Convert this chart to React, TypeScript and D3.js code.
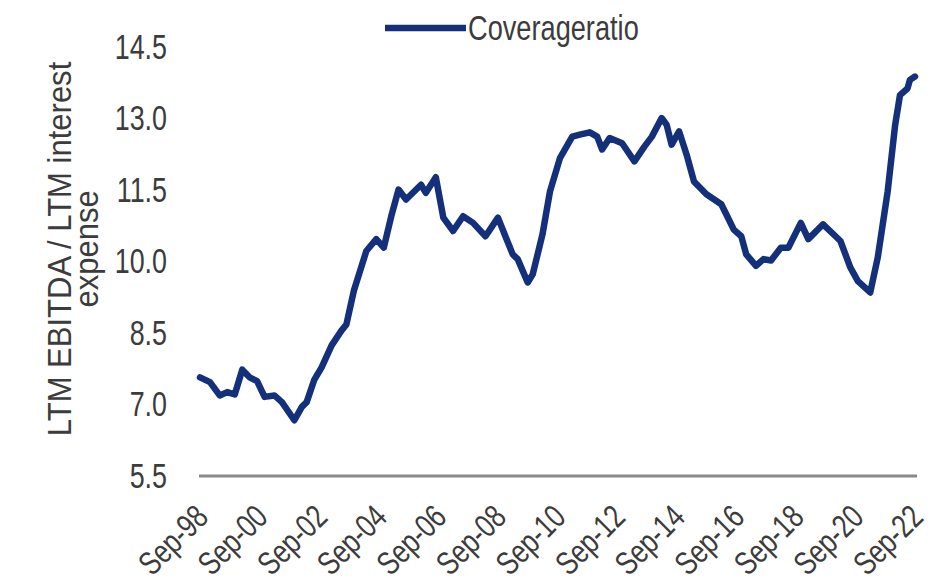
import React from "react";
import * as d3 from "d3";

const dates: string[] = [
  "1998-09","1999-01","1999-05","1999-08","1999-11","2000-02","2000-05","2000-08","2000-11","2001-03",
  "2001-06","2001-11","2002-02","2002-04","2002-07","2002-10","2003-02","2003-06","2003-08","2003-11",
  "2004-04","2004-08","2004-11","2005-02","2005-05","2005-08","2006-02","2006-04","2006-08","2006-11",
  "2007-03","2007-07","2007-11","2008-04","2008-09","2008-12","2009-03","2009-05","2009-09","2009-11",
  "2010-03","2010-06","2010-10","2011-03","2011-06","2011-10","2012-01","2012-03","2012-06","2012-11",
  "2013-04","2013-08","2013-11","2014-03","2014-05","2014-07","2014-10","2015-01","2015-04","2015-09",
  "2016-03","2016-05","2016-08","2016-11","2017-01","2017-05","2017-08","2017-11","2018-03","2018-06",
  "2018-11","2019-02","2019-08","2020-01","2020-03","2020-07","2020-10","2021-03","2021-06","2021-10",
  "2022-01","2022-03","2022-06","2022-07","2022-09"
];

const coverageRatio: number[] = [
  7.57,7.47,7.19,7.26,7.21,7.73,7.57,7.49,7.16,7.19,
  7.05,6.67,6.95,7.05,7.51,7.78,8.24,8.55,8.68,9.39,
  10.22,10.47,10.29,10.95,11.51,11.30,11.61,11.44,11.77,10.92,
  10.64,10.95,10.81,10.53,10.92,10.53,10.15,10.05,9.56,9.73,
  10.57,11.47,12.17,12.62,12.66,12.71,12.62,12.35,12.59,12.48,
  12.10,12.41,12.62,13.01,12.87,12.45,12.73,12.24,11.68,11.41,
  11.20,10.99,10.67,10.53,10.15,9.91,10.05,10.02,10.29,10.29,
  10.81,10.47,10.78,10.53,10.43,9.87,9.59,9.35,10.08,11.47,
  12.87,13.49,13.63,13.81,13.88
];

const yTicks: number[] = [5.5, 7.0, 8.5, 10.0, 11.5, 13.0, 14.5];
const xTickLabels: string[] = [
  "Sep-98","Sep-00","Sep-02","Sep-04","Sep-06","Sep-08","Sep-10",
  "Sep-12","Sep-14","Sep-16","Sep-18","Sep-20","Sep-22"
];
const seriesName = "Coverageratio";
const yTitleLines: string[] = ["LTM EBITDA / LTM interest", "expense"];

const FONT = "'Liberation Sans', Arial, sans-serif";
const TEXT = "#3c3c3c";
const LINE = "#14307a";

export default function App() {
  const W = 930, H = 586;
  const parse = d3.timeParse("%Y-%m");
  const data = dates.map((d, i) => ({ date: parse(d) as Date, value: coverageRatio[i] }));
  const tickDates = xTickLabels.map((l) => d3.timeParse("%b-%y")(l) as Date);

  const x = d3.scaleTime()
    .domain([tickDates[0], tickDates[tickDates.length - 1]])
    .range([200, 915]);
  const y = d3.scaleLinear().domain([5.5, 14.5]).range([476, 47]);

  const line = d3.line<{ date: Date; value: number }>()
    .x((d) => x(d.date))
    .y((d) => y(d.value));

  return (
    <svg width={W} height={H} style={{ position: "fixed", left: 0, top: 0, background: "#fff" }}
      fontFamily={FONT}>
      <rect x={0} y={0} width={W} height={H} fill="#fff" />
      {/* legend */}
      <line x1={385} x2={466} y1={28} y2={28} stroke={LINE} strokeWidth={6.5} />
      <text transform={`translate(468,28) scale(0.85,1.1)`} fontSize={32} fill={TEXT}
        dominantBaseline="central">{seriesName}</text>

      {/* y tick labels */}
      {yTicks.map((t) => (
        <text key={t} transform={`translate(167,${y(t)}) scale(0.84,1.1)`} fontSize={32}
          fill={TEXT} textAnchor="end" dominantBaseline="central">{t.toFixed(1)}</text>
      ))}

      {/* y title */}
      {yTitleLines.map((l, i) => (
        <text key={i} transform={`translate(${71 + i * 27},249) scale(1,0.94) rotate(-90)`}
          fontSize={33} fill={TEXT} textAnchor="middle">{l}</text>
      ))}

      {/* x axis */}
      <line x1={199} x2={917} y1={y(5.5)} y2={y(5.5)} stroke="#8a8a8a" strokeWidth={3} />
      {tickDates.map((d, i) => (
        <text key={i} transform={`translate(${x(d) + 10},${y(5.5) + 43}) rotate(-45) scale(0.85,1.1)`}
          fontSize={30} fill={TEXT} textAnchor="end">{xTickLabels[i]}</text>
      ))}

      {/* series */}
      <path d={line(data) || ""} fill="none" stroke={LINE} strokeWidth={6.5}
        strokeLinejoin="round" strokeLinecap="round" />
    </svg>
  );
}
